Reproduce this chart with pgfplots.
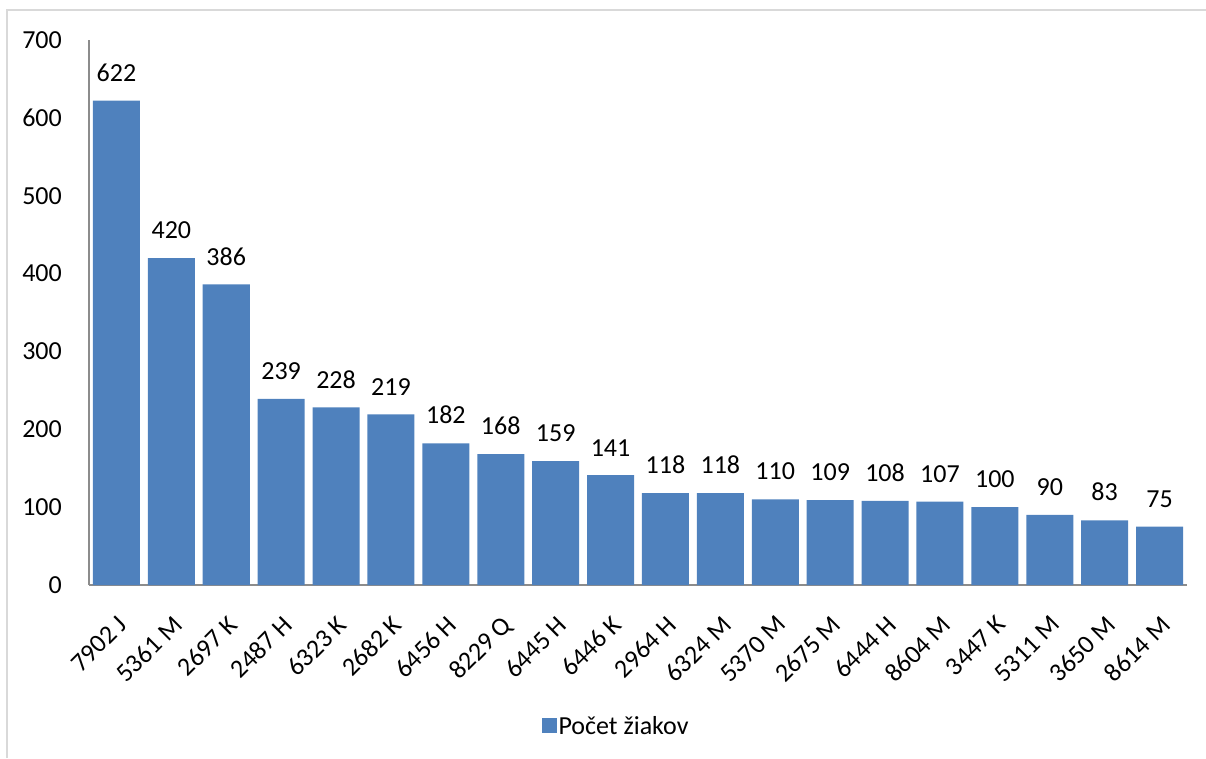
\documentclass[border=0pt]{standalone}
\usepackage{fontspec}
\setmainfont{Carlito}
\usepackage{pgfplots}
\pgfplotsset{compat=1.18}

\definecolor{barblue}{HTML}{4F81BD}
\definecolor{axisgray}{HTML}{8C8C8C}
\definecolor{framegray}{HTML}{D9D9D9}
\newcommand{\chartfont}{\fontsize{26pt}{31pt}\selectfont}

\begin{document}
\begin{tikzpicture}
\useasboundingbox (-89pt,-173pt) rectangle (1117pt,585pt);
% chart frame (only top and left edges are inside the crop)
\draw[framegray, line width=2pt] (-82pt,-173pt) -- (-82pt,575pt) -- (1117pt,575pt);

\begin{axis}[
	scale only axis,
	width=1098pt, height=545pt,
	ybar, bar width=47pt,
	xmin=-0.5, xmax=19.5,
	ymin=0, ymax=700,
	ytick={0,100,...,700},
	xtick=data,
	xticklabels={7902 J,5361 M,2697 K,2487 H,6323 K,2682 K,6456 H,8229 Q,6445 H,6446 K,
		2964 H,6324 M,5370 M,2675 M,6444 H,8604 M,3447 K,5311 M,3650 M,8614 M},
	axis x line*=bottom, axis y line*=left,
	axis line style={draw=axisgray, line width=1.5pt, -},
	major tick length=0pt,
	/pgf/number format/assume math mode=true,
	tick label style={font=\chartfont, inner sep=0pt},
	xticklabel style={rotate=45, anchor=north east},
	xticklabel shift=29pt,
	yticklabel style={anchor=east},
	yticklabel shift=27pt,
	nodes near coords,
	nodes near coords style={font=\chartfont, anchor=south, inner sep=0pt, yshift=19pt},
	clip=false,
	legend style={draw=none, fill=none, font=\chartfont,
		at={(axis description cs:0.48,-0.2587)}, anchor=center},
	legend image code/.code={\fill[barblue] (0pt,-7.5pt) rectangle (15pt,7.5pt);},
]
\addplot[fill=barblue, draw=none] coordinates {
	(0,622) (1,420) (2,386) (3,239) (4,228) (5,219) (6,182) (7,168) (8,159) (9,141)
	(10,118) (11,118) (12,110) (13,109) (14,108) (15,107) (16,100) (17,90) (18,83) (19,75)
};
\addlegendentry{Počet žiakov}
\end{axis}
\end{tikzpicture}
\end{document}
